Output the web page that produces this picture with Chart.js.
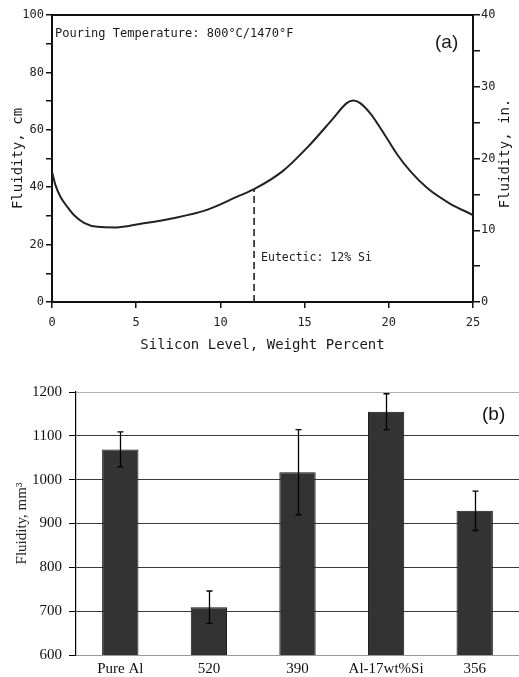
<!DOCTYPE html>
<html>
<head>
<meta charset="utf-8">
<script src="https://cdn.jsdelivr.net/npm/chart.js@4/dist/chart.umd.min.js"></script>
<style>
  html, body { margin: 0; padding: 0; background: #fff; width: 519px; height: 677px; overflow: hidden; }
  #wa { position: absolute; left: 0; top: 0; width: 519px; height: 360px; }
  #wb { position: absolute; left: 0; top: 360px; width: 519px; height: 317px; }
</style>
</head>
<body>
<div id="wa"><canvas id="ca" width="519" height="360"></canvas></div>
<div id="wb"><canvas id="cb" width="519" height="317"></canvas></div>
<script>
// ---------- Panel (a) data ----------
const siliconPct = [0, 0.2, 0.5, 0.9, 1.3, 1.9, 2.7, 3.8, 5.2, 7.2, 9.2, 11.0, 12.0, 13.7, 15.3, 16.7, 17.5, 17.9, 18.3, 18.9, 19.7, 20.5, 21.3, 22.3, 23.6, 25];
const fluidityCm = [45.4, 40.8, 36.7, 33.2, 30.3, 27.6, 26.2, 26.0, 27.2, 29.2, 32.1, 36.7, 39.3, 45.6, 54.7, 64.0, 69.3, 70.2, 69.3, 65.7, 58.8, 51.4, 45.4, 39.6, 34.4, 30.3];
const eutecticX = [12, 12];
const eutecticY = [0, 39.3];
const xTicksA = [0, 5, 10, 15, 20, 25];
const leftTicksCm = [0, 20, 40, 60, 80, 100];
const rightTicksIn = [0, 10, 20, 30, 40];
const labelsA = {
  pouring: 'Pouring Temperature: 800°C/1470°F',
  eutectic: 'Eutectic: 12% Si',
  panel: '(a)',
  xTitle: 'Silicon Level, Weight Percent',
  yTitle: 'Fluidity, cm',
  y2Title: 'Fluidity, in.'
};

// ---------- Panel (b) data ----------
const alloys = ['Pure Al', '520', '390', 'Al-17wt%Si', '356'];
const fluidityMm3 = [1069, 709, 1017, 1155, 929];
const fluidityErr = [40, 37, 97, 41, 45];
const labelsB = { panel: '(b)', yTitle: 'Fluidity, mm³' };

const MONO = '"DejaVu Sans Mono", monospace';
const SERIF = '"Liberation Serif", "Times New Roman", serif';
const SANS = '"Liberation Sans", Arial, sans-serif';

// ---------- Chart A ----------
const annotA = {
  id: 'annotA',
  afterDraw(chart) {
    const ctx = chart.ctx;
    const x = chart.scales.x, y = chart.scales.y;
    ctx.save();
    ctx.fillStyle = '#1a1a1a';
    ctx.textBaseline = 'middle';
    ctx.textAlign = 'left';
    ctx.font = '12px ' + MONO;
    ctx.fillText(labelsA.pouring, x.left + 3, 34);
    ctx.font = '11.5px ' + MONO;
    ctx.fillText(labelsA.eutectic, x.getPixelForValue(12) + 7, 258);
    ctx.font = '19px ' + SANS;
    ctx.fillText(labelsA.panel, 435, 43);
    // right axis title, reading bottom-to-top
    ctx.font = '14px ' + MONO;
    ctx.translate(505, (y.top + y.bottom) / 2 - 5);
    ctx.rotate(-Math.PI / 2);
    ctx.textAlign = 'center';
    ctx.fillText(labelsA.y2Title, 0, 0);
    ctx.restore();
  }
};

new Chart(document.getElementById('ca'), {
  type: 'line',
  data: {
    datasets: [
      {
        data: siliconPct.map((v, i) => ({ x: v, y: fluidityCm[i] })),
        borderColor: '#222',
        borderWidth: 2,
        pointRadius: 0,
        cubicInterpolationMode: 'monotone',
        fill: false
      },
      {
        data: eutecticX.map((v, i) => ({ x: v, y: eutecticY[i] })),
        borderColor: '#222',
        borderWidth: 1.6,
        borderDash: [7, 4],
        pointRadius: 0,
        fill: false
      }
    ]
  },
  options: {
    responsive: false,
    devicePixelRatio: 1,
    animation: false,
    layout: { padding: 0 },
    plugins: { legend: { display: false }, tooltip: { enabled: false } },
    scales: {
      x: {
        type: 'linear', position: 'bottom', min: 0, max: 25,
        afterBuildTicks: s => { s.ticks = xTicksA.map(v => ({ value: v })); },
        afterFit: s => { s.height = 58; },
        grid: { drawOnChartArea: false, tickLength: 6, tickColor: '#111', lineWidth: 1.5 },
        border: { color: '#111', width: 2 },
        ticks: { color: '#222', font: { family: MONO, size: 12 }, padding: 8, maxRotation: 0 },
        title: { display: true, text: labelsA.xTitle, color: '#1a1a1a', font: { family: MONO, size: 14 }, padding: { top: 0, bottom: 6 } }
      },
      xTop: {
        type: 'linear', position: 'top', min: 0, max: 25,
        afterFit: s => { s.height = 15; },
        grid: { display: false },
        ticks: { display: false },
        border: { color: '#111', width: 2 }
      },
      y: {
        type: 'linear', position: 'left', min: 0, max: 100,
        afterBuildTicks: s => { const t = []; for (let v = 0; v <= 100; v += 10) t.push({ value: v }); s.ticks = t; },
        afterFit: s => { s.width = 52; },
        grid: { drawOnChartArea: false, tickLength: 6, tickColor: '#111', lineWidth: 1.5 },
        border: { color: '#111', width: 2 },
        ticks: { color: '#222', font: { family: MONO, size: 12 }, padding: 2,
          callback: v => leftTicksCm.includes(v) ? String(v) : '' },
        title: { display: true, text: labelsA.yTitle, color: '#1a1a1a', font: { family: MONO, size: 14 }, padding: { top: 10, bottom: 0 } }
      },
      y2: {
        type: 'linear', position: 'right', min: 0, max: 40,
        afterBuildTicks: s => { const t = []; for (let v = 0; v <= 40; v += 5) t.push({ value: v }); s.ticks = t; },
        afterFit: s => { s.width = 46; },
        grid: { drawOnChartArea: false, tickLength: 7, tickColor: '#111', lineWidth: 1.5 },
        border: { color: '#111', width: 2 },
        ticks: { color: '#222', font: { family: MONO, size: 12 }, padding: 1,
          callback: v => rightTicksIn.includes(v) ? String(v) : '' }
      }
    }
  },
  plugins: [annotA]
});

// ---------- Chart B ----------
const errorBars = {
  id: 'errorBars',
  afterDatasetsDraw(chart) {
    const ctx = chart.ctx;
    const meta = chart.getDatasetMeta(0);
    const y = chart.scales.y;
    ctx.save();
    ctx.strokeStyle = '#000';
    ctx.lineWidth = 1.3;
    meta.data.forEach((bar, i) => {
      const v = fluidityMm3[i], e = fluidityErr[i];
      const yt = y.getPixelForValue(v + e), yb = y.getPixelForValue(v - e);
      const cx = Math.round(bar.x) + 0.5;
      ctx.beginPath();
      ctx.moveTo(cx, yt); ctx.lineTo(cx, yb);
      ctx.moveTo(cx - 3, yt); ctx.lineTo(cx + 3, yt);
      ctx.moveTo(cx - 3, yb); ctx.lineTo(cx + 3, yb);
      ctx.stroke();
    });
    ctx.restore();
  },
  afterDraw(chart) {
    const ctx = chart.ctx;
    ctx.save();
    ctx.fillStyle = '#111';
    ctx.font = '19px ' + SANS;
    ctx.textAlign = 'left';
    ctx.textBaseline = 'middle';
    ctx.fillText(labelsB.panel, 482, 55);
    ctx.restore();
  }
};

new Chart(document.getElementById('cb'), {
  type: 'bar',
  data: {
    labels: alloys,
    datasets: [{
      data: fluidityMm3,
      backgroundColor: '#333333',
      borderColor: '#111111',
      borderWidth: 1,
      barPercentage: 0.41,
      categoryPercentage: 1
    }]
  },
  options: {
    responsive: false,
    devicePixelRatio: 1,
    animation: false,
    layout: { padding: { top: 32, right: 0, bottom: 0, left: 0 } },
    plugins: { legend: { display: false }, tooltip: { enabled: false } },
    scales: {
      x: {
        afterFit: s => { s.height = 22; },
        grid: { display: false },
        border: { display: false },
        ticks: { color: '#111', font: { family: SERIF, size: 15 }, padding: -3, maxRotation: 0, autoSkip: false }
      },
      y: {
        min: 600, max: 1200,
        afterFit: s => { s.width = 76; },
        ticks: { stepSize: 100, color: '#111', font: { family: SERIF, size: 15 }, padding: 7,
          callback: v => String(v) },
        grid: {
          color: c => (c.tick && c.tick.value === 1200) ? '#b0b0b0' : (c.tick && c.tick.value === 600) ? '#999' : '#3a3a3a',
          lineWidth: 1,
          tickLength: 7,
          tickColor: '#000'
        },
        border: { color: '#000', width: 1.2 },
        title: { display: true, text: labelsB.yTitle, color: '#222', font: { family: SERIF, size: 15 }, padding: { top: 13, bottom: 0 } }
      }
    }
  },
  plugins: [errorBars]
});
</script>
</body>
</html>
